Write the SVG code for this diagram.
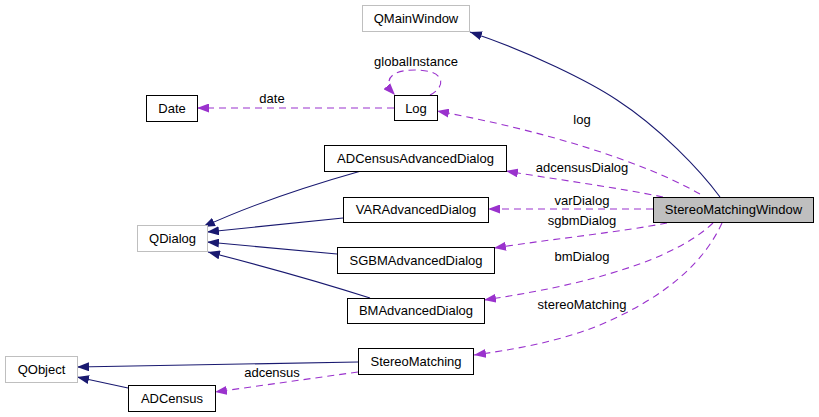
<svg xmlns="http://www.w3.org/2000/svg" width="819" height="417" viewBox="0 0 819 417">
<defs>
<style>
.box{fill:#fff;stroke:#000;stroke-width:1}
.gbox{fill:#fff;stroke:#bfbfbf;stroke-width:1}
.sel{fill:#bfbfbf;stroke:#000;stroke-width:1}
text{font-family:"Liberation Sans",Arial,Helvetica,sans-serif;font-size:13px;fill:#000}
.n{text-anchor:middle}
.inh{fill:none;stroke:#191970;stroke-width:1.1;marker-end:url(#an)}
.use{fill:none;stroke:#9a32cd;stroke-width:1.1;stroke-dasharray:7,5;marker-end:url(#ap)}
</style>
<marker id="an" viewBox="0 0 12 9" refX="12" refY="4.5" markerWidth="12" markerHeight="9" markerUnits="userSpaceOnUse" orient="auto">
<path d="M0,0 L12,4.5 L0,9 z" fill="#191970"/>
</marker>
<marker id="ap" viewBox="0 0 12 9" refX="12" refY="4.5" markerWidth="12" markerHeight="9" markerUnits="userSpaceOnUse" orient="auto">
<path d="M0,0 L12,4.5 L0,9 z" fill="#9a32cd"/>
</marker>
</defs>
<rect width="819" height="417" fill="#fff"/>
<g id="edges">
<path class="inh" d="M720,197 C700,170 660,128 617,100 C590,82 530,52 470,32"/>
<path class="inh" d="M361,171 C315,184 255,203 203,227"/>
<path class="inh" d="M343,218 L207,232"/>
<path class="inh" d="M337,254 L207,242"/>
<path class="inh" d="M370,298 C320,282 255,264 208,252"/>
<path class="inh" d="M358,362 L77,367"/>
<path class="inh" d="M128,388 L77,377"/>
<path class="use" d="M430,95 C445,88 448,70 415,70 C388,70 383,82 395,95"/>
<path class="use" d="M394,108 L197,108"/>
<path class="use" d="M700,194 C640,160 540,130 437,111"/>
<path class="use" d="M663,197 C620,188 560,180 506,171"/>
<path class="use" d="M653,209 L488,209"/>
<path class="use" d="M667,223 C620,232 560,238 494,248"/>
<path class="use" d="M713,223 C685,250 620,280 484,300"/>
<path class="use" d="M722,223 C705,260 670,295 600,325 C555,343 510,350 474,355"/>
<path class="use" d="M358,372 L215,392"/>
<text class="n" x="416" y="66">globalInstance</text>
<text class="n" x="272" y="103">date</text>
<text class="n" x="582" y="124">log</text>
<text class="n" x="582" y="172">adcensusDialog</text>
<text class="n" x="582" y="205">varDialog</text>
<text class="n" x="582" y="225">sgbmDialog</text>
<text class="n" x="582" y="261">bmDialog</text>
<text class="n" x="582" y="309">stereoMatching</text>
<text class="n" x="272" y="377">adcensus</text>
</g>
<g id="QMainWindow"><rect class="gbox" x="362.5" y="5.5" width="107" height="26"/><text class="n" x="416" y="23">QMainWindow</text></g>
<g id="Log"><rect class="box" x="394.5" y="95.5" width="43" height="25"/><text class="n" x="416" y="113">Log</text></g>
<g id="Date"><rect class="box" x="146.5" y="95.5" width="51" height="26"/><text class="n" x="172" y="113">Date</text></g>
<g id="ADCensusAdvancedDialog"><rect class="box" x="324.5" y="145.5" width="182" height="26"/><text class="n" x="415.5" y="163">ADCensusAdvancedDialog</text></g>
<g id="VARAdvancedDialog"><rect class="box" x="343.5" y="197.5" width="145" height="25"/><text class="n" x="416" y="214">VARAdvancedDialog</text></g>
<g id="SGBMAdvancedDialog"><rect class="box" x="337.5" y="247.5" width="157" height="26"/><text class="n" x="416" y="265">SGBMAdvancedDialog</text></g>
<g id="BMAdvancedDialog"><rect class="box" x="347.5" y="298.5" width="137" height="25"/><text class="n" x="416" y="315">BMAdvancedDialog</text></g>
<g id="StereoMatchingWindow"><rect class="sel" x="653.5" y="197.5" width="160" height="25"/><text class="n" x="733.5" y="214">StereoMatchingWindow</text></g>
<g id="QDialog"><rect class="gbox" x="137.5" y="225.5" width="70" height="26"/><text class="n" x="172.5" y="243">QDialog</text></g>
<g id="QObject"><rect class="gbox" x="5.5" y="356.5" width="72" height="26"/><text class="n" x="41.5" y="374">QObject</text></g>
<g id="StereoMatching"><rect class="box" x="358.5" y="348.5" width="115" height="26"/><text class="n" x="416" y="366">StereoMatching</text></g>
<g id="ADCensus"><rect class="box" x="128.5" y="385.5" width="87" height="26"/><text class="n" x="172" y="403">ADCensus</text></g>
</svg>
